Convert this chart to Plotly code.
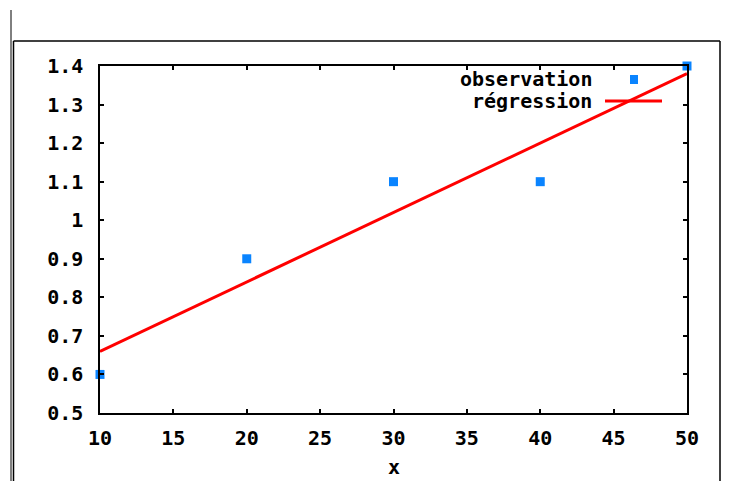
import plotly.graph_objects as go

# data
obs_x = [10, 20, 30, 40, 50]
obs_y = [0.6, 0.9, 1.1, 1.1, 1.4]
reg_x = [10, 50]
reg_y = [0.66, 1.38]
x_ticks = [10, 15, 20, 25, 30, 35, 40, 45, 50]
y_ticks = [0.5, 0.6, 0.7, 0.8, 0.9, 1.0, 1.1, 1.2, 1.3, 1.4]
y_tick_labels = ["0.5", "0.6", "0.7", "0.8", "0.9", "1", "1.1", "1.2", "1.3", "1.4"]
x_title = "x"

OFF = 8  # page body margin
W, H = 729 - OFF, 481 - OFF
L, R, T, B = 100 - OFF, 687 - OFF, 66 - OFF, 413 - OFF
FONT = "DejaVu Sans Mono"
FS = 20
BLUE = "#0a84ff"


def px(x):
    return (x - OFF - L) / (R - L)


def py(y):
    return (B - (y - OFF)) / (B - T)


fig = go.Figure()
fig.add_trace(go.Scatter(x=reg_x, y=reg_y, mode="lines",
                         line=dict(color="#ff0000", width=3),
                         name="régression", showlegend=False))
fig.add_trace(go.Scatter(x=obs_x, y=obs_y, mode="markers",
                         marker=dict(color=BLUE, size=9, symbol="square"),
                         name="observation", showlegend=False, cliponaxis=False))

tfont = dict(family=FONT, size=FS, color="black", weight="bold")
axis_common = dict(showline=True, linecolor="black", linewidth=1.5, mirror="ticks",
                   ticks="inside", ticklen=4, tickcolor="black", tickwidth=1.5,
                   showgrid=False, zeroline=False, tickfont=tfont, automargin=False)

fig.update_xaxes(range=[10, 50], tickvals=x_ticks, ticktext=[str(v) for v in x_ticks],
                 ticklabelstandoff=6, **axis_common)
fig.update_yaxes(range=[0.5, 1.4], tickvals=y_ticks, ticktext=y_tick_labels,
                 ticklabelstandoff=11, **axis_common)

shapes = [
    # outer frame lines
    dict(type="line", xref="paper", yref="paper", x0=px(11), x1=px(11), y0=py(10), y1=py(490),
         line=dict(color="black", width=1)),
    dict(type="line", xref="paper", yref="paper", x0=px(13.5), x1=px(13.5), y0=py(41), y1=py(490),
         line=dict(color="black", width=1.5)),
    dict(type="line", xref="paper", yref="paper", x0=px(13.5), x1=px(720), y0=py(41), y1=py(41),
         line=dict(color="black", width=1.5)),
    dict(type="line", xref="paper", yref="paper", x0=px(720), x1=px(720), y0=py(41), y1=py(490),
         line=dict(color="black", width=1.5)),
    # legend samples
    dict(type="line", xref="paper", yref="paper", x0=px(605), x1=px(662), y0=py(101), y1=py(101),
         line=dict(color="#ff0000", width=3)),
    dict(type="rect", xref="paper", yref="paper", x0=px(630), x1=px(638), y0=py(75), y1=py(84),
         fillcolor=BLUE, line=dict(width=0)),
]

annotations = [
    dict(text="observation", xref="paper", yref="paper", x=px(594), y=py(79),
         xanchor="right", yanchor="middle", showarrow=False, font=tfont),
    dict(text="régression", xref="paper", yref="paper", x=px(594), y=py(101),
         xanchor="right", yanchor="middle", showarrow=False, font=tfont),
    dict(text=x_title, xref="paper", yref="paper", x=0.5, y=py(480),
         xanchor="center", yanchor="bottom", showarrow=False, font=tfont, borderpad=0),
]

fig.update_layout(width=W, height=H, margin=dict(l=L, r=W - R, t=T, b=H - B),
                  paper_bgcolor="white", plot_bgcolor="white",
                  shapes=shapes, annotations=annotations, showlegend=False)

fig.write_html("out.html")
